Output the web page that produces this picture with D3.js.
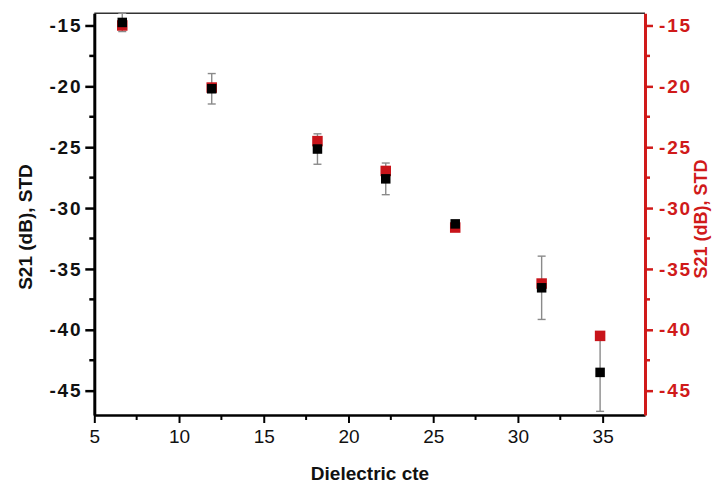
<!DOCTYPE html>
<html>
<head>
<meta charset="utf-8">
<script src="https://d3js.org/d3.v7.min.js"></script>
<style>
  body { margin: 0; background: #fff; }
  text { font-family: "Liberation Sans", Arial, sans-serif; }
</style>
</head>
<body>
<div id="chart"></div>
<script>
"use strict";

// values
var dielectric = [6.65, 11.93, 18.17, 22.2, 26.3, 31.4, 34.85];
var s21Black   = [-14.75, -20.2, -25.15, -27.6, -31.3, -36.55, -43.5];
var s21Red     = [-15.0, -20.1, -24.5, -26.95, -31.6, -36.2, -40.5];
var stdBlack   = [0.75, 1.25, 1.25, 1.3, 0.2, 2.6, 3.2];
var xTicks = [5, 10, 15, 20, 25, 30, 35];
var yTicks = [-15, -20, -25, -30, -35, -40, -45];

var width = 713,
    height = 483;

var red = "#d01a1a";

var svg = d3.select("#chart")
            .append("svg")
            .attr("width", width)
            .attr("height", height)

var x = d3.scaleLinear().domain([5, 37.5]).range([94.3, 645]);
var y = d3.scaleLinear().domain([-47, -14]).range([415, 13.3]);

var minorX = d3.range(7.5, 37.5, 5);
var minorY = d3.range(-17.5, -47, -5);

// plain hyphen like the original
var fmt = function(d) { return String(d) }

// top frame line
svg.append("line")
   .attr("x1", x(5)).attr("x2", x(37.5))
   .attr("y1", y(-14)).attr("y2", y(-14))
   .attr("stroke", "#333").attr("stroke-width", 1.5)

// bottom axis
var xAxis = svg.append("g")
   .attr("transform", "translate(0," + y(-47) + ")")
   .call(d3.axisBottom(x).tickValues(xTicks).tickSize(8).tickPadding(7).tickSizeOuter(0))
xAxis.select(".domain").attr("stroke", "#000").attr("stroke-width", 2.5)
xAxis.selectAll(".tick line").attr("stroke-width", 2)
xAxis.selectAll(".tick text")
   .attr("font-size", 19).attr("fill", "#111")
   .style("font-family", "'Liberation Sans', Arial, sans-serif")
xAxis.selectAll(".minor")
   .data(minorX).enter().append("line")
   .attr("x1", function(d) { return x(d) }).attr("x2", function(d) { return x(d) })
   .attr("y1", 0).attr("y2", 5)
   .attr("stroke", "#000").attr("stroke-width", 2)

// left axis
var yAxis = svg.append("g")
   .attr("transform", "translate(" + x(5) + ",0)")
   .call(d3.axisLeft(y).tickValues(yTicks).tickFormat(fmt).tickSize(9).tickPadding(3).tickSizeOuter(0))
yAxis.select(".domain").attr("stroke", "#000").attr("stroke-width", 3)
yAxis.selectAll(".tick line").attr("stroke-width", 2.5)
yAxis.selectAll(".tick text")
   .attr("font-size", 19).attr("font-weight", "bold").attr("fill", "#111")
   .attr("letter-spacing", 1.8)
   .style("font-family", "'Liberation Sans', Arial, sans-serif")
yAxis.selectAll(".minor")
   .data(minorY).enter().append("line")
   .attr("x1", 0).attr("x2", -5)
   .attr("y1", function(d) { return y(d) }).attr("y2", function(d) { return y(d) })
   .attr("stroke", "#000").attr("stroke-width", 2.5)

// right axis, red
var yAxisR = svg.append("g")
   .attr("transform", "translate(" + x(37.5) + ",0)")
   .call(d3.axisRight(y).tickValues(yTicks).tickFormat(fmt).tickSize(8).tickPadding(6).tickSizeOuter(0))
yAxisR.select(".domain").attr("stroke", red).attr("stroke-width", 3)
yAxisR.selectAll(".tick line").attr("stroke", red).attr("stroke-width", 2.5)
yAxisR.selectAll(".tick text")
   .attr("font-size", 19).attr("font-weight", "bold").attr("fill", red)
   .attr("letter-spacing", 1.8)
   .style("font-family", "'Liberation Sans', Arial, sans-serif")
yAxisR.selectAll(".minor")
   .data(minorY).enter().append("line")
   .attr("x1", 0).attr("x2", 5)
   .attr("y1", function(d) { return y(d) }).attr("y2", function(d) { return y(d) })
   .attr("stroke", red).attr("stroke-width", 2.5)

var data = dielectric.map(function(d, i) {
  return {x: d, b: s21Black[i], r: s21Red[i], e: stdBlack[i]}
})

// error bars of the black series
var err = svg.selectAll(".err")
   .data(data).enter().append("g")
   .attr("class", "err")
   .attr("stroke", "#8a8a8a").attr("stroke-width", 1.4)
err.append("line")
   .attr("x1", function(d) { return x(d.x) }).attr("x2", function(d) { return x(d.x) })
   .attr("y1", function(d) { return y(d.b + d.e) }).attr("y2", function(d) { return y(d.b - d.e) })
err.append("line")
   .attr("x1", function(d) { return x(d.x) - 4 }).attr("x2", function(d) { return x(d.x) + 4 })
   .attr("y1", function(d) { return y(d.b + d.e) }).attr("y2", function(d) { return y(d.b + d.e) })
err.append("line")
   .attr("x1", function(d) { return x(d.x) - 4 }).attr("x2", function(d) { return x(d.x) + 4 })
   .attr("y1", function(d) { return y(d.b - d.e) }).attr("y2", function(d) { return y(d.b - d.e) })

// red squares then black squares
var rs = 10.5, bs = 9.5;
svg.selectAll(".red")
   .data(data).enter().append("rect")
   .attr("class", "red")
   .attr("x", function(d) { return x(d.x) - rs / 2 })
   .attr("y", function(d) { return y(d.r) - rs / 2 })
   .attr("width", rs).attr("height", rs)
   .attr("fill", "#c8141a")

svg.selectAll(".black")
   .data(data).enter().append("rect")
   .attr("class", "black")
   .attr("x", function(d) { return x(d.x) - bs / 2 })
   .attr("y", function(d) { return y(d.b) - bs / 2 })
   .attr("width", bs).attr("height", bs)
   .attr("fill", "#000")

// axis titles
svg.append("text")
   .attr("x", 370).attr("y", 480)
   .attr("text-anchor", "middle")
   .attr("font-size", 19).attr("font-weight", "bold").attr("fill", "#111")
   .text("Dielectric cte")

svg.append("text")
   .attr("transform", "translate(32,227) rotate(-90)")
   .attr("text-anchor", "middle")
   .attr("font-size", 19).attr("font-weight", "bold").attr("fill", "#111")
   .text("S21 (dB), STD")

svg.append("text")
   .attr("transform", "translate(707,219) rotate(-90)")
   .attr("text-anchor", "middle")
   .attr("font-size", 18).attr("font-weight", "bold").attr("fill", red)
   .text("S21 (dB), STD")
</script>
</body>
</html>
